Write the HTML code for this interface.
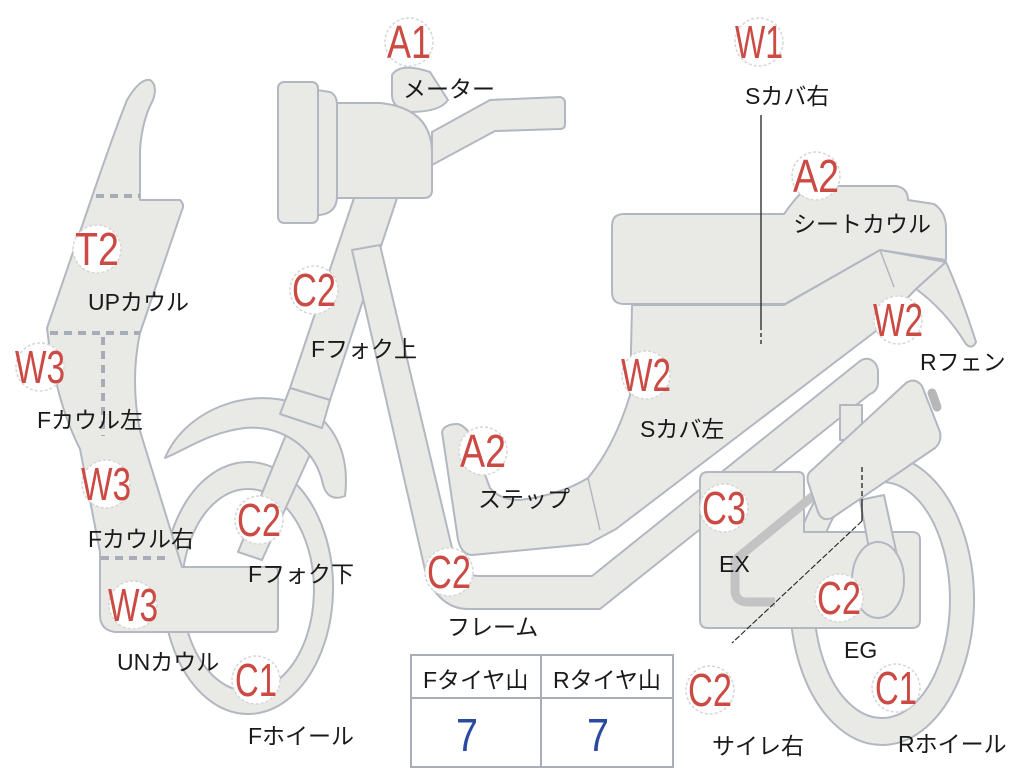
<!DOCTYPE html>
<html><head><meta charset="utf-8"><style>
html,body{margin:0;padding:0;background:#fff;width:1024px;height:768px;overflow:hidden}
svg{display:block}
.s{fill:#e9e9e5;stroke:#b3b7c1;stroke-width:2;stroke-linejoin:round}
.b circle{fill:#fff;stroke:#d6d6d6;stroke-width:1.5;stroke-dasharray:3 2}
.b text{fill:#cb4a44;font-family:"Liberation Sans Narrow","Liberation Sans",sans-serif;font-size:46px;text-anchor:middle}
.l{fill:#1a1a1a;font-family:"Liberation Sans","Noto Sans CJK JP",sans-serif;font-size:23px}
.d{stroke:#a8acb6;stroke-width:4;stroke-dasharray:8 6;fill:none}
</style></head><body>
<svg width="1024" height="768" viewBox="0 0 1024 768" xmlns="http://www.w3.org/2000/svg">
<path class="s" fill-rule="evenodd" d="M248,462 a85,126 0 1,0 0.1,0 Z M248,489 a66,101 0 1,1 -0.1,0 Z"/>
<path class="s" fill-rule="evenodd" d="M882,455 a92,145 0 1,0 0.1,0 Z M882,482 a68,118 0 1,1 -0.1,0 Z"/>
<polygon class="s" points="292,420 322,428 262,560 238,552"/>
<path class="s" d="M165,458 C185,410 250,385 300,405 C335,420 350,455 345,496 C335,500 325,498 322,480 C312,445 280,425 245,428 C210,432 185,450 165,458 Z"/>
<polygon class="s" points="355,195 398,195 330,400 290,388"/>
<polygon class="s" points="290,388 330,400 322,428 280,414"/>
<path class="s" d="M352,250 L380,245 L452,548 C456,565 462,576 480,576 L592,576 L860,361 C868,356 876,360 878,370 L878,382 C878,388 875,392 870,394 L600,609 L468,609 C445,609 430,590 425,570 Z"/>
<path class="s" d="M708,472 L798,472 Q804,472 804,478 L804,532 L912,532 Q920,532 920,540 L920,620 Q920,628 912,628 L708,628 Q700,628 700,620 L700,480 Q700,472 708,472 Z"/>
<polygon class="s" points="840,405 862,405 862,440 840,440"/>
<polygon class="s" points="860,500 884,495 898,560 872,565"/>
<ellipse class="s" cx="878" cy="580" rx="26" ry="38"/>
<path d="M818,492 L735,560 L735,590 Q735,602 748,602 L775,602" fill="none" stroke="#c3c3c3" stroke-width="9"/>
<line x1="932" y1="393" x2="937" y2="407" stroke="#b7b7b7" stroke-width="9" stroke-linecap="round"/>
<path class="s" d="M812,470 L906,383 Q915,377 922,386 L940,432 Q942,442 935,448 L832,518 Q822,522 818,512 L808,482 Q806,474 812,470 Z"/>
<path class="s" d="M442,432 Q444,424 458,424 Q470,428 474,445 L490,488 Q500,500 520,500 Q560,495 588,478 Q615,445 630,395 L632,305 L784,305 L880,250 L946,262 L916,289 L876,331 L616,529 L588,544 L472,555 Q462,555 458,540 Z"/>
<line x1="588" y1="478" x2="600" y2="530" stroke="#b3b7c1" stroke-width="1.5"/>
<path class="s" d="M946,262 Q962,298 976,342 Q972,350 966,344 Q945,310 916,289 Z"/>
<path class="s" d="M624,214 L784,214 Q795,198 808,186 L896,186 Q908,188 908,200 L934,204 Q946,212 946,228 L946,260 L880,250 L785,304 L624,304 Q612,304 612,292 L612,226 Q612,214 624,214 Z"/>
<line x1="880" y1="250" x2="894" y2="287" stroke="#b3b7c1" stroke-width="1.5"/>
<path class="s" d="M150,80 Q158,85 153,100 Q142,120 140,150 L140,200 L180,200 Q185,205 182,210 L140,333 Q130,380 140,431 L182,567 L274,567 Q278,567 278,571 L278,628 Q278,632 274,632 L115,632 Q100,630 100,615 L100,552 L80,449 Q55,400 47,328 L93,194 Q115,130 127,100 Q140,78 150,80 Z"/>
<line class="d" x1="96" y1="196" x2="140" y2="196"/>
<line class="d" x1="50" y1="333" x2="140" y2="333"/>
<line class="d" x1="103" y1="337" x2="103" y2="436"/>
<line class="d" x1="101" y1="558" x2="170" y2="558"/>
<path class="s" d="M432,132 L490,100 L560,97 Q565,98 565,103 L565,124 Q565,129 560,129 L495,131 L432,165 Z"/>
<path class="s" d="M392,75 Q400,62 430,72 L448,100 Q440,112 410,112 Q392,108 392,95 Z"/>
<path class="s" d="M337,103 L380,103 Q430,108 432,150 L432,190 Q432,198 424,198 L337,198 Z"/>
<path class="s" d="M317,90 L330,92 Q337,95 337,105 L337,196 Q337,213 320,215 L317,215 Z"/>
<rect class="s" x="278" y="82" width="40" height="141" rx="6"/>
<line x1="761" y1="115" x2="761" y2="330" stroke="#222" stroke-width="1.3"/>
<line x1="761" y1="333" x2="761" y2="346" stroke="#222" stroke-width="1.3" stroke-dasharray="4 3"/>
<line x1="862" y1="467" x2="862" y2="500" stroke="#222" stroke-width="1.3" stroke-dasharray="5 3"/>
<line x1="862" y1="500" x2="862" y2="521" stroke="#222" stroke-width="1.3"/>
<line x1="862" y1="521" x2="732" y2="643" stroke="#222" stroke-width="1.1" stroke-dasharray="6 2"/>
<rect x="411" y="655" width="262" height="112" fill="#fff" stroke="#a9adb8" stroke-width="2"/>
<line x1="411" y1="698" x2="673" y2="698" stroke="#a9adb8" stroke-width="2"/>
<line x1="541" y1="655" x2="541" y2="767" stroke="#a9adb8" stroke-width="2"/>
<text class="l" x="423" y="688">Fタイヤ山</text>
<text class="l" x="553" y="688">Rタイヤ山</text>
<text x="467" y="751" font-family="Liberation Sans Narrow,Liberation Sans,sans-serif" font-size="46" fill="#2a4aa0" text-anchor="middle" textLength="22" lengthAdjust="spacingAndGlyphs">7</text>
<text x="598" y="751" font-family="Liberation Sans Narrow,Liberation Sans,sans-serif" font-size="46" fill="#2a4aa0" text-anchor="middle" textLength="22" lengthAdjust="spacingAndGlyphs">7</text>
<g class="b">
<circle cx="409" cy="42" r="24"/><text x="409" y="58" textLength="44" lengthAdjust="spacingAndGlyphs">A1</text>
<circle cx="759" cy="42" r="24"/><text x="759" y="58" textLength="48" lengthAdjust="spacingAndGlyphs">W1</text>
<circle cx="816" cy="176" r="24"/><text x="816" y="192" textLength="46" lengthAdjust="spacingAndGlyphs">A2</text>
<circle cx="97" cy="249" r="24"/><text x="97" y="265" textLength="44" lengthAdjust="spacingAndGlyphs">T2</text>
<circle cx="314" cy="290" r="24"/><text x="314" y="306" textLength="44" lengthAdjust="spacingAndGlyphs">C2</text>
<circle cx="898" cy="320" r="24"/><text x="898" y="336" textLength="50" lengthAdjust="spacingAndGlyphs">W2</text>
<circle cx="40" cy="367" r="24"/><text x="40" y="383" textLength="50" lengthAdjust="spacingAndGlyphs">W3</text>
<circle cx="646" cy="375" r="24"/><text x="646" y="391" textLength="50" lengthAdjust="spacingAndGlyphs">W2</text>
<circle cx="483" cy="451" r="24"/><text x="483" y="467" textLength="46" lengthAdjust="spacingAndGlyphs">A2</text>
<circle cx="106" cy="484" r="24"/><text x="106" y="500" textLength="50" lengthAdjust="spacingAndGlyphs">W3</text>
<circle cx="259" cy="520" r="24"/><text x="259" y="536" textLength="44" lengthAdjust="spacingAndGlyphs">C2</text>
<circle cx="724" cy="508" r="24"/><text x="724" y="524" textLength="44" lengthAdjust="spacingAndGlyphs">C3</text>
<circle cx="449" cy="572" r="24"/><text x="449" y="588" textLength="44" lengthAdjust="spacingAndGlyphs">C2</text>
<circle cx="133" cy="605" r="24"/><text x="133" y="621" textLength="50" lengthAdjust="spacingAndGlyphs">W3</text>
<circle cx="839" cy="598" r="24"/><text x="839" y="614" textLength="44" lengthAdjust="spacingAndGlyphs">C2</text>
<circle cx="256" cy="680" r="24"/><text x="256" y="696" textLength="42" lengthAdjust="spacingAndGlyphs">C1</text>
<circle cx="896" cy="688" r="24"/><text x="896" y="704" textLength="42" lengthAdjust="spacingAndGlyphs">C1</text>
<circle cx="710" cy="690" r="24"/><text x="710" y="706" textLength="44" lengthAdjust="spacingAndGlyphs">C2</text>
</g>
<text class="l" x="403" y="97">メーター</text>
<text class="l" x="745" y="104">Sカバ右</text>
<text class="l" x="793" y="232">シートカウル</text>
<text class="l" x="88" y="310">UPカウル</text>
<text class="l" x="311" y="357">Fフォク上</text>
<text class="l" x="920" y="370">Rフェン</text>
<text class="l" x="37" y="428">Fカウル左</text>
<text class="l" x="640" y="437">Sカバ左</text>
<text class="l" x="478" y="507">ステップ</text>
<text class="l" x="88" y="547">Fカウル右</text>
<text class="l" x="248" y="582">Fフォク下</text>
<text class="l" x="719" y="572">EX</text>
<text class="l" x="447" y="635">フレーム</text>
<text class="l" x="844" y="658">EG</text>
<text class="l" x="117" y="670">UNカウル</text>
<text class="l" x="248" y="744">Fホイール</text>
<text class="l" x="712" y="754">サイレ右</text>
<text class="l" x="898" y="752">Rホイール</text>
</svg>
</body></html>
